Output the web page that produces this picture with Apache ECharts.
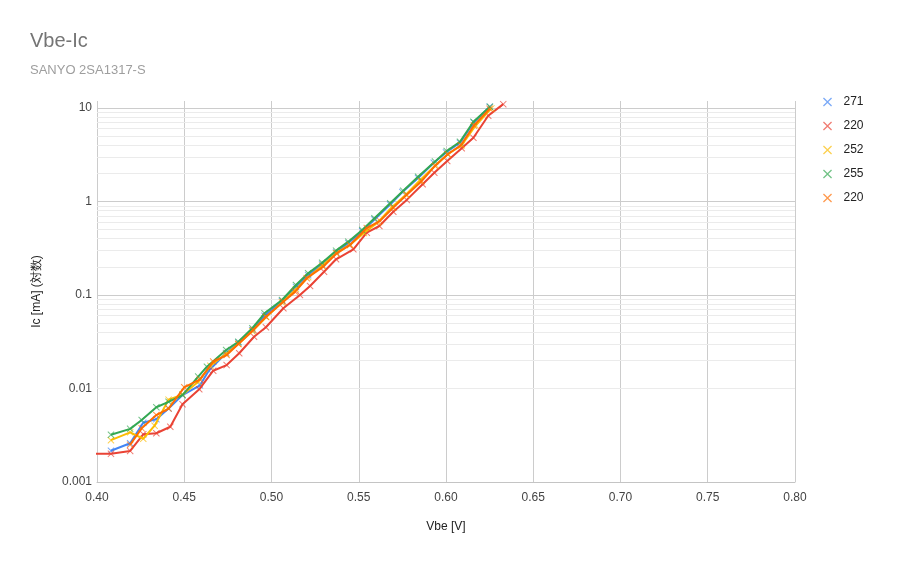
<!DOCTYPE html>
<html><head><meta charset="utf-8">
<script src="https://cdn.jsdelivr.net/npm/echarts@6/dist/echarts.min.js"></script>
<style>html,body{margin:0;padding:0;background:#fff}#c{width:908px;height:562px}</style>
</head><body><div id="c"></div>
<script>
const seriesNames = ['271', '220', '252', '255', '220 '];
const seriesColors = ['#4285f4', '#ea4335', '#fbbc04', '#34a853', '#ff6d01'];

const vbe271 = [0.408,0.419,0.4265,0.434,0.441,0.449,0.459,0.464,0.474,0.481,0.489,0.496,0.506,0.514,0.521,0.529,0.537,0.544,0.552,0.559,0.568,0.575,0.584,0.593,0.600,0.608,0.616,0.625];
const ic271  = [0.00216,0.0026,0.0043,0.0047,0.0061,0.0085,0.0108,0.0155,0.024,0.031,0.042,0.060,0.086,0.122,0.163,0.212,0.285,0.360,0.48,0.64,0.93,1.26,1.78,2.6,3.35,4.25,7.0,10.3];

const vbe220a = [0.395,0.408,0.419,0.4265,0.434,0.442,0.449,0.4586,0.4666,0.4743,0.4815,0.490,0.4968,0.5068,0.5163,0.5221,0.5301,0.537,0.5469,0.5546,0.5618,0.5698,0.5775,0.5866,0.5933,0.6007,0.609,0.6157,0.6242,0.6328];
const ic220a  = [0.002,0.002,0.00215,0.00324,0.00332,0.0039,0.0068,0.0098,0.0155,0.0178,0.0238,0.0358,0.0452,0.0721,0.100,0.125,0.177,0.241,0.308,0.464,0.547,0.778,1.04,1.53,2.03,2.71,3.71,4.81,8.27,11.0];

const vbe252 = [0.408,0.419,0.4265,0.433,0.441,0.449,0.458,0.465,0.474,0.481,0.489,0.497,0.506,0.514,0.521,0.529,0.537,0.545,0.553,0.561,0.569,0.577,0.585,0.594,0.601,0.609,0.617,0.626];
const ic252  = [0.0028,0.0034,0.0029,0.0040,0.0076,0.0086,0.0118,0.0175,0.0235,0.030,0.041,0.058,0.083,0.115,0.155,0.205,0.28,0.345,0.46,0.6,0.87,1.18,1.68,2.45,3.2,4.0,6.5,9.9];

const vbe255 = [0.408,0.419,0.4256,0.434,0.441,0.449,0.458,0.463,0.474,0.481,0.489,0.496,0.506,0.514,0.521,0.529,0.537,0.544,0.552,0.559,0.568,0.5755,0.584,0.5937,0.6004,0.608,0.6157,0.6252];
const ic255  = [0.0032,0.0037,0.0046,0.0063,0.0072,0.0085,0.0134,0.0171,0.0258,0.0316,0.0441,0.0637,0.0885,0.128,0.171,0.221,0.298,0.372,0.495,0.661,0.957,1.30,1.84,2.67,3.47,4.36,7.13,10.3];

const vbe220b = [0.419,0.4256,0.434,0.441,0.450,0.459,0.4666,0.4743,0.481,0.4896,0.4968,0.5068,0.5135,0.5202,0.5297,0.5374,0.545,0.5546,0.5622,0.5698,0.5775,0.586,0.5937,0.601,0.6085,0.616,0.625];
const ic220b  = [0.0025,0.00375,0.0052,0.0061,0.0103,0.0125,0.0194,0.0228,0.0299,0.0423,0.0586,0.0848,0.108,0.151,0.201,0.279,0.343,0.52,0.62,0.86,1.18,1.65,2.4,3.2,4.0,6.5,9.8];

const xTicks = [0.40,0.45,0.50,0.55,0.60,0.65,0.70,0.75,0.80];
const minorLines = [0.002,0.003,0.004,0.005,0.006,0.007,0.008,0.009,
                    0.02,0.03,0.04,0.05,0.06,0.07,0.08,0.09,
                    0.2,0.3,0.4,0.5,0.6,0.7,0.8,0.9,
                    2,3,4,5,6,7,8,9];

const allX = [vbe271, vbe220a, vbe252, vbe255, vbe220b];
const allY = [ic271, ic220a, ic252, ic255, ic220b];

const xMark = 'path://M1,0 L5,4 L9,0 L10,1 L6,5 L10,9 L9,10 L5,6 L1,10 L0,9 L4,5 L0,1 Z';
const font = '"Liberation Sans", Arial, sans-serif';

const series = seriesNames.map((name, i) => ({
  name: name,
  type: 'line',
  data: allX[i].map((x, j) => [x, allY[i][j]]),
  symbol: xMark,
  symbolSize: 7,
  showAllSymbol: true,
  lineStyle: { width: 2, color: seriesColors[i] },
  itemStyle: { color: seriesColors[i], opacity: 0.7 },
  emphasis: { disabled: true },
  z: 2 + i,
  markLine: i === 0 ? {
    silent: true, symbol: ['none', 'none'], z: 1,
    label: { show: false },
    lineStyle: { color: '#ebebeb', width: 1, type: 'solid' },
    emphasis: { disabled: true },
    data: minorLines.map(v => ({ yAxis: v }))
  } : undefined
}));

const chart = echarts.init(document.getElementById('c'), null, { renderer: 'canvas' });
chart.setOption({
  animation: false,
  backgroundColor: '#ffffff',
  textStyle: { fontFamily: font },
  title: {
    text: 'Vbe-Ic',
    subtext: 'SANYO 2SA1317-S',
    left: 25, top: 26,
    itemGap: 13,
    textStyle: { fontSize: 20, fontWeight: 'normal', color: '#757575', fontFamily: font },
    subtextStyle: { fontSize: 13, color: '#9e9e9e', fontFamily: font }
  },
  legend: {
    orient: 'vertical',
    left: 818, top: 91,
    itemWidth: 22, itemHeight: 9, itemGap: 12,
    icon: xMark,
    textStyle: { fontSize: 12, color: '#222', fontFamily: font },
    data: seriesNames.map((n, i) => ({ name: n, itemStyle: { color: seriesColors[i] } }))
  },
  grid: { left: 97, right: 113, top: 101, bottom: 80, containLabel: false },
  xAxis: {
    type: 'value', min: 0.4, max: 0.8, interval: 0.05,
    name: 'Vbe [V]', nameLocation: 'middle', nameGap: 39,
    nameTextStyle: { fontSize: 12, color: '#222', fontFamily: font },
    axisLine: { show: true, lineStyle: { color: '#c4c4c4' } },
    axisTick: { show: false },
    axisLabel: { fontSize: 12, color: '#444', margin: 10, formatter: v => v.toFixed(2) },
    splitLine: { show: true, lineStyle: { color: '#cccccc', width: 1 } }
  },
  yAxis: {
    type: 'log', logBase: 10, min: 0.001, max: 11.88,
    name: 'Ic [mA] (対数)', nameLocation: 'middle', nameGap: 54, nameRotate: 90,
    nameTextStyle: { fontSize: 12, color: '#222', fontFamily: font },
    axisLine: { show: false },
    axisTick: { show: false },
    axisLabel: { fontSize: 12, color: '#444', margin: 5, showMaxLabel: false },
    splitLine: { show: true, showMaxLine: false, lineStyle: { color: '#cccccc', width: 1 } }
  },
  series: series
});
</script>
</body></html>
